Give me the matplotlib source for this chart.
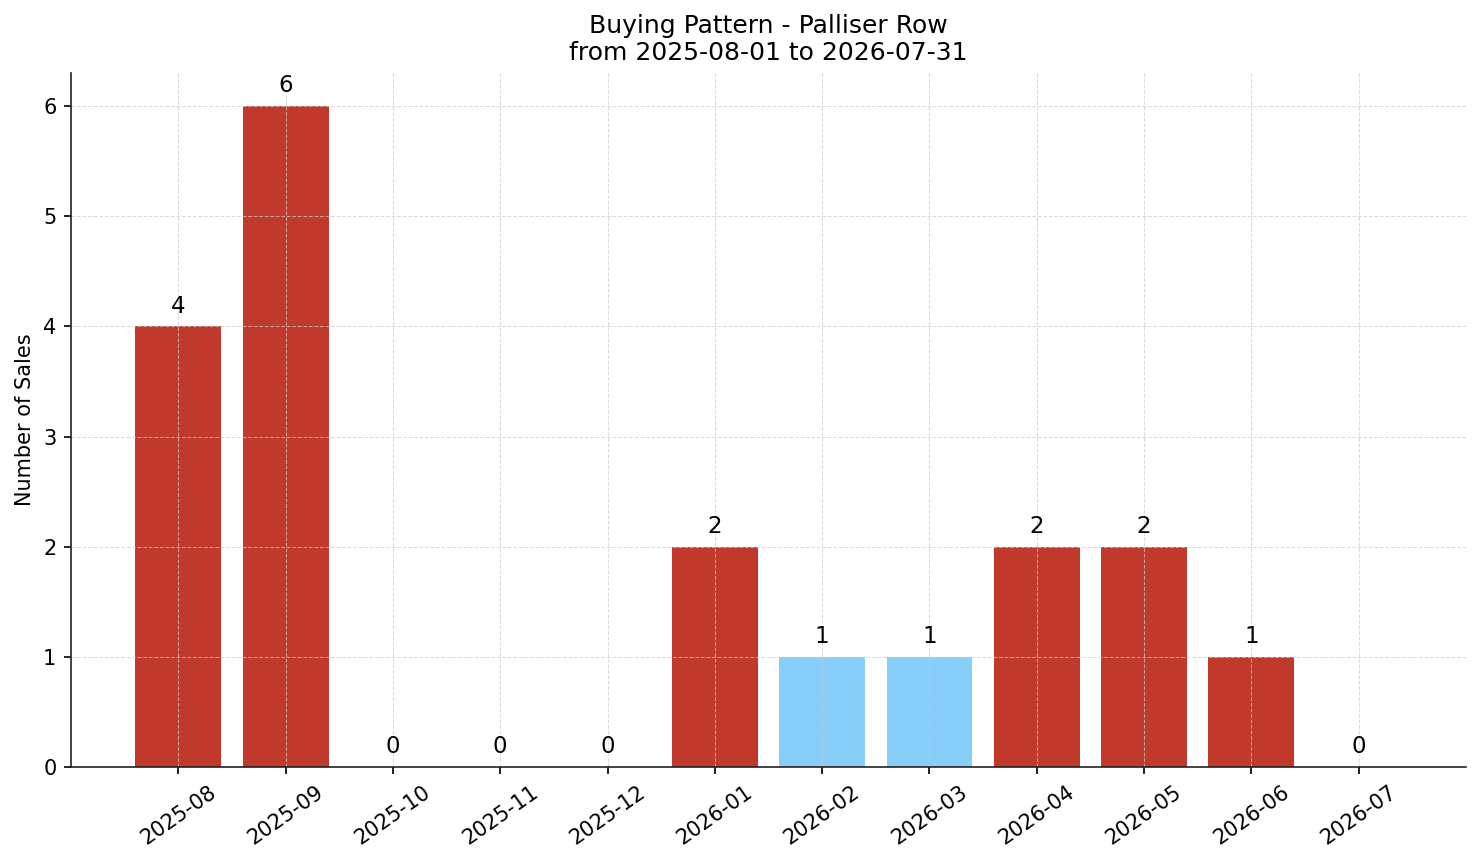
import matplotlib
matplotlib.use("Agg")
import matplotlib.pyplot as plt
import numpy as np

months = ["2025-08", "2025-09", "2025-10", "2025-11", "2025-12", "2026-01",
          "2026-02", "2026-03", "2026-04", "2026-05", "2026-06", "2026-07"]
sales = [4, 6, 0, 0, 0, 2, 1, 1, 2, 2, 1, 0]
low_months = ["2026-02", "2026-03"]

red = "#c0392b"
blue = "#87cefa"
colors = [blue if m in low_months else red for m in months]

fig = plt.figure(figsize=(1481 / 150, 863 / 150), dpi=150)
ax = fig.add_subplot(111)
fig.subplots_adjust(left=71 / 1481, right=1466 / 1481, top=1 - 73 / 863, bottom=1 - 767 / 863)

x = np.arange(len(months))
bars = ax.bar(x, sales, width=0.8, color=colors)

for xi, v in zip(x, sales):
    ax.text(xi, v + 0.08, str(v), ha="center", va="bottom", fontsize=11)

ax.set_xticks(x)
ax.set_xticklabels(months, rotation=35, ha="center", fontsize=10)
ax.tick_params(axis="y", labelsize=10)
ax.set_xlim(-1, len(months))
ax.set_ylim(0, max(sales) * 1.05)
ax.set_ylabel("Number of Sales", fontsize=10)
ax.set_title("Buying Pattern - Palliser Row\nfrom 2025-08-01 to 2026-07-31", fontsize=12)
ax.grid(True, linestyle="--", color="#cccccc", linewidth=0.5, alpha=0.7)
ax.spines["top"].set_visible(False)
ax.spines["right"].set_visible(False)
for s in ["left", "bottom"]:
    ax.spines[s].set_color("#222222")

fig.savefig("out.png", dpi=150)
